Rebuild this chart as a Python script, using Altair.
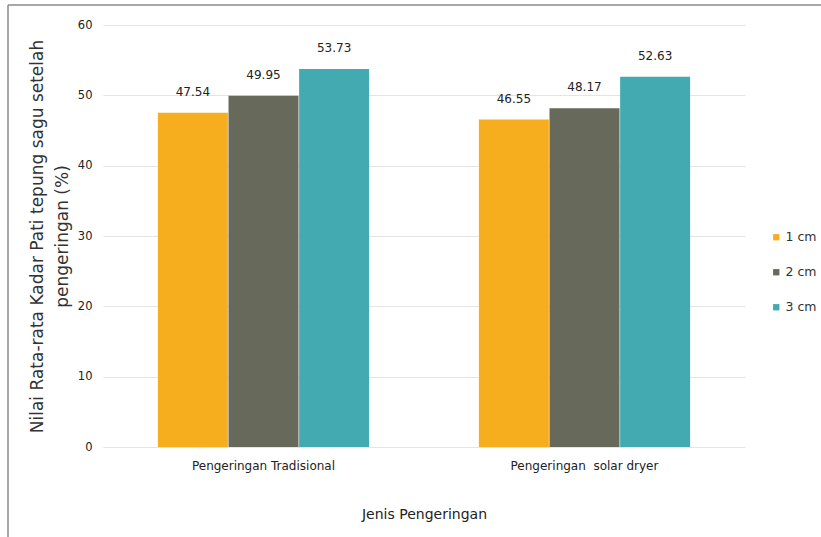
import altair as alt
import pandas as pd

# Mean starch content of sago flour after drying, by drying method and slice thickness
methods = ["Pengeringan Tradisional", "Pengeringan\u00a0 solar dryer"]
thickness = ["1 cm", "2 cm", "3 cm"]
tradisional = [47.54, 49.95, 53.73]
solar_dryer = [46.55, 48.17, 52.63]
colors = ["#F6AE1F", "#67695A", "#44AAB1"]

rows = []
for m, vals in zip(methods, [tradisional, solar_dryer]):
    for t, v in zip(thickness, vals):
        rows.append({"metode": m, "tebal": t, "nilai": v})
df = pd.DataFrame(rows)

FONT = "DejaVu Sans, sans-serif"
W, H = 642, 422
PAD = {"left": 103, "top": 25, "right": 821 - 103 - W, "bottom": 537 - 25 - H}

base = alt.Chart(df).encode(
    x=alt.X(
        "metode:N",
        sort=methods,
        scale=alt.Scale(paddingInner=0.34, paddingOuter=0.17),
        axis=alt.Axis(
            title="Jenis Pengeringan",
            labelAngle=0,
            labelFont=FONT,
            labelFontSize=12,
            labelColor="#222",
            labelPadding=13,
            ticks=False,
            domain=False,
            titleFont=FONT,
            titleFontSize=14,
            titleFontWeight="normal",
            titleColor="#222",
            titlePadding=36,
        ),
    ),
    xOffset=alt.XOffset("tebal:N", sort=thickness, scale=alt.Scale(paddingInner=0, paddingOuter=0)),
)

bars = base.mark_bar(size=70).encode(
    y=alt.Y(
        "nilai:Q",
        scale=alt.Scale(domain=[0, 60], nice=False),
        axis=alt.Axis(
            values=[0, 10, 20, 30, 40, 50, 60],
            title=["Nilai Rata-rata Kadar Pati tepung sagu setelah", "pengeringan (%)"],
            titleFont=FONT,
            titleFontSize=17,
            titleFontWeight="normal",
            titleColor="#333",
            titleLineHeight=25,
            titlePadding=6,
            labelFont=FONT,
            labelFontSize=11.5,
            labelColor="#222",
            labelPadding=11,
            ticks=False,
            domain=False,
            grid=True,
            gridColor="#E4E4E4",
            gridWidth=1.2,
        ),
    ),
    color=alt.Color(
        "tebal:N",
        sort=thickness,
        scale=alt.Scale(domain=thickness, range=colors),
        legend=alt.Legend(
            title=None,
            orient="none",
            legendX=667,
            legendY=206,
            symbolType="square",
            symbolSize=40,
            symbolStrokeWidth=0,
            labelFont=FONT,
            labelFontSize=12.5,
            labelColor="#333",
            labelOffset=3,
            rowPadding=22,
        ),
    ),
)

labels = base.mark_text(
    font=FONT, fontSize=12, color="#222", baseline="middle", dy=-21
).encode(
    y="nilai:Q",
    text=alt.Text("nilai:Q", format=".2f"),
)

# frame lines along the top and left edges of the figure
frame = alt.Chart(pd.DataFrame({"k": [0]}))
top_edge = frame.mark_rule(color="#8A8A8A", strokeWidth=1.5).encode(
    x=alt.value(-95), x2=alt.value(W + PAD["right"]), y=alt.value(-20)
)
left_edge = frame.mark_rule(color="#8A8A8A", strokeWidth=1.5).encode(
    x=alt.value(-95), y=alt.value(-20), y2=alt.value(H + PAD["bottom"])
)

chart = (
    alt.layer(bars, labels, top_edge, left_edge)
    .properties(
        width=W,
        height=H,
        autosize=alt.AutoSizeParams(type="none"),
        padding=PAD,
        background="white",
    )
    .configure_view(stroke=None)
)

chart.save("out.html", embed_options={"renderer": "svg", "actions": False})
